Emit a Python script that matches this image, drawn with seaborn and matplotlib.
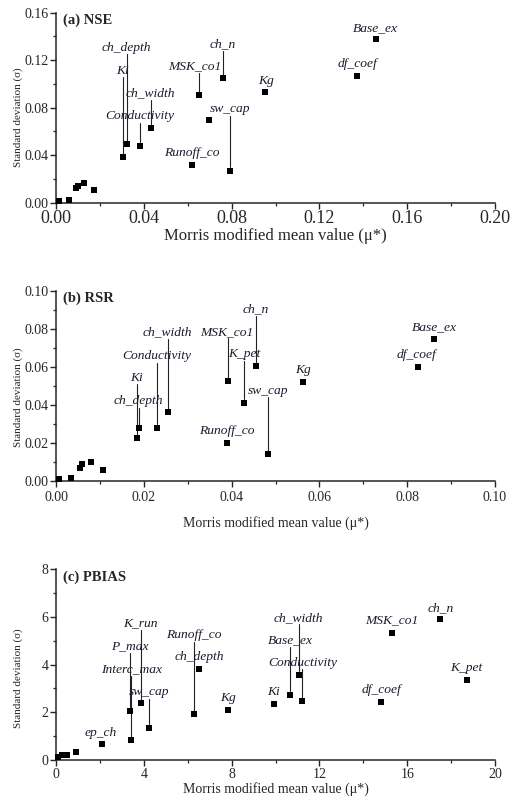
import matplotlib
matplotlib.use('Agg')
import matplotlib.pyplot as plt
import seaborn as sns
import pandas as pd
from matplotlib.ticker import MultipleLocator, FormatStrFormatter

# ---- data: Morris mu* / sigma for each objective ----
nse_param = ['', '', '', '', '', '', 'Ki', 'ch_depth', 'Conductivity', 'ch_width',
             'Runoff_co', 'MSK_co1', '', 'ch_n', 'sw_cap', 'Kg', 'df_coef', 'Base_ex']
nse_mu = [0.0012, 0.0058, 0.0093, 0.0099, 0.0129, 0.0172, 0.0304, 0.0322, 0.0384, 0.0433,
          0.0620, 0.0653, 0.0699, 0.0761, 0.0791, 0.0954, 0.1370, 0.1456]
nse_sigma = [0.0014, 0.0023, 0.0121, 0.0141, 0.0163, 0.0104, 0.0382, 0.0494, 0.0480, 0.0632,
             0.0314, 0.0904, 0.0696, 0.1050, 0.0269, 0.0929, 0.1064, 0.1375]

rsr_param = ['', '', '', '', '', '', 'Ki', 'ch_depth', 'Conductivity', 'ch_width',
             'Runoff_co', 'MSK_co1', 'K_pet', 'ch_n', 'sw_cap', 'Kg', 'df_coef', 'Base_ex']
rsr_mu = [0.0007, 0.0034, 0.0055, 0.0060, 0.0080, 0.0107, 0.0184, 0.0188, 0.0230, 0.0254,
          0.0389, 0.0392, 0.0428, 0.0456, 0.0483, 0.0563, 0.0824, 0.0861]
rsr_sigma = [0.0010, 0.0017, 0.0072, 0.0089, 0.0100, 0.0059, 0.0226, 0.0278, 0.0280, 0.0362,
             0.0203, 0.0524, 0.0413, 0.0605, 0.0143, 0.0521, 0.0601, 0.0747]

pbias_param = ['', '', '', '', 'ep_ch', 'P_max', 'Interc_max', 'K_run', 'sw_cap', 'Runoff_co',
               'ch_depth', 'Kg', 'Ki', 'Base_ex', 'ch_width', 'Conductivity', 'df_coef',
               'MSK_co1', 'ch_n', 'K_pet']
pbias_mu = [0.08, 0.25, 0.52, 0.91, 2.08, 3.37, 3.42, 3.86, 4.24, 6.27,
            6.53, 7.85, 9.93, 10.68, 11.06, 11.22, 14.82, 15.32, 17.51, 18.71]
pbias_sigma = [0.12, 0.20, 0.21, 0.34, 0.67, 2.06, 0.84, 2.38, 1.36, 1.92,
               3.80, 2.10, 2.35, 2.74, 3.58, 2.46, 2.45, 5.34, 5.90, 3.36]

# ---- label layout: text centre (x, y) and whether a leader line is drawn ----
nse_labels = {'Base_ex': (0.1456, 0.1474, False), 'df_coef': (0.1373, 0.1165, False),
              'Kg': (0.0955, 0.1027, False), 'ch_n': (0.0759, 0.1336, True),
              'MSK_co1': (0.0633, 0.1151, True), 'sw_cap': (0.0793, 0.0786, True),
              'Runoff_co': (0.0620, 0.0415, False), 'ch_width': (0.0431, 0.0921, True),
              'Conductivity': (0.0383, 0.0730, True), 'ch_depth': (0.0322, 0.1305, True),
              'Ki': (0.0302, 0.1112, True)}
rsr_labels = {'Base_ex': (0.0861, 0.0808, False), 'df_coef': (0.0822, 0.0663, False),
              'Kg': (0.0563, 0.0584, False), 'ch_n': (0.0456, 0.0902, True),
              'MSK_co1': (0.0390, 0.0785, True), 'K_pet': (0.0428, 0.0668, True),
              'sw_cap': (0.0483, 0.0476, True), 'Runoff_co': (0.0389, 0.0266, False),
              'ch_width': (0.0254, 0.0780, True), 'Conductivity': (0.0230, 0.0657, True),
              'Ki': (0.0184, 0.0544, True), 'ch_depth': (0.0188, 0.0420, True)}
pbias_labels = {'ch_n': (17.51, 6.36, False), 'MSK_co1': (15.32, 5.85, False),
                'K_pet': (18.71, 3.85, False), 'df_coef': (14.82, 2.94, False),
                'Conductivity': (11.22, 4.08, True), 'Base_ex': (10.68, 5.01, True),
                'ch_width': (11.04, 5.97, True), 'Ki': (9.93, 2.87, False),
                'Kg': (7.85, 2.59, False), 'ch_depth': (6.51, 4.31, False),
                'Runoff_co': (6.27, 5.24, True), 'K_run': (3.86, 5.73, True),
                'P_max': (3.37, 4.76, True), 'Interc_max': (3.42, 3.82, True),
                'sw_cap': (4.24, 2.84, True), 'ep_ch': (2.05, 1.15, False)}

sns.set_style('ticks')
plt.rcParams['font.family'] = ['Liberation Serif', 'DejaVu Serif']

fig = plt.figure(figsize=(5.14, 8.02), dpi=100)

panels = [
    dict(title='(a) NSE', param=nse_param, mu=nse_mu, sigma=nse_sigma, labels=nse_labels,
         rect=[0.109, 0.7473, 0.854, 0.2368], xmax=0.20, ymax=0.16, xstep=0.04, ystep=0.04,
         fmt='%.2f', xtick_fs=13, xlab_fs=12, xpad=1, xlab_y=-0.135, ylab_y=0.45),
    dict(title='(b) RSR', param=rsr_param, mu=rsr_mu, sigma=rsr_sigma, labels=rsr_labels,
         rect=[0.109, 0.3999, 0.854, 0.2376], xmax=0.10, ymax=0.10, xstep=0.02, ystep=0.02,
         fmt='%.2f', xtick_fs=10, xlab_fs=10, xpad=3, xlab_y=-0.185, ylab_y=0.44),
    dict(title='(c) PBIAS', param=pbias_param, mu=pbias_mu, sigma=pbias_sigma,
         labels=pbias_labels, rect=[0.109, 0.0524, 0.854, 0.2377], xmax=20, ymax=8,
         xstep=4, ystep=2, fmt='%d', xtick_fs=10, xlab_fs=10, xpad=1.5, xlab_y=-0.118,
         ylab_y=0.43),
]

for p in panels:
    ax = fig.add_axes(p['rect'])
    df = pd.DataFrame({'mu': p['mu'], 'sigma': p['sigma'], 'param': p['param']})
    sns.scatterplot(data=df, x='mu', y='sigma', marker='s', color='black', s=22,
                    edgecolor='black', linewidth=0, ax=ax, clip_on=False, zorder=3)
    ax.set_xlim(0, p['xmax'])
    ax.set_ylim(0, p['ymax'])
    ax.xaxis.set_major_locator(MultipleLocator(p['xstep']))
    ax.xaxis.set_minor_locator(MultipleLocator(p['xstep'] / 2))
    ax.yaxis.set_major_locator(MultipleLocator(p['ystep']))
    ax.yaxis.set_minor_locator(MultipleLocator(p['ystep'] / 2))
    ax.xaxis.set_major_formatter(FormatStrFormatter(p['fmt']))
    ax.yaxis.set_major_formatter(FormatStrFormatter(p['fmt']))
    sns.despine(ax=ax)
    for s in ['left', 'bottom']:
        ax.spines[s].set_linewidth(1.1)
    ax.tick_params(which='major', direction='out', length=4, width=1)
    ax.tick_params(which='minor', direction='out', length=2.2, width=0.9)
    ax.tick_params(axis='x', labelsize=p['xtick_fs'], pad=p['xpad'])
    ax.tick_params(axis='y', labelsize=10, pad=1.5)

    ax.set_xlabel('Morris modified mean value (\u03bc*)', fontsize=p['xlab_fs'])
    ax.xaxis.set_label_coords(0.5, p['xlab_y'])
    ax.set_ylabel('Standard deviation (\u03c3)', fontsize=8)
    ax.yaxis.set_label_coords(-0.075, p['ylab_y'])

    ax.text(0.016, 0.96, p['title'], transform=ax.transAxes, fontsize=10.5,
            fontweight='bold', ha='left', va='center')

    # parameter labels with vertical leader lines
    for name, x, y in zip(df['param'], df['mu'], df['sigma']):
        if not name:
            continue
        tx, ty, leader = p['labels'][name]
        ax.text(tx, ty, name, fontsize=9.7, style='italic', ha='center', va='center',
                color='#1a1a2e')
        if leader:
            top = ty - 0.035 * p['ymax']
            ax.plot([x, x], [top, y + 0.018 * p['ymax']], color='#222222', lw=0.8)

fig.savefig('out.png', dpi=100)
